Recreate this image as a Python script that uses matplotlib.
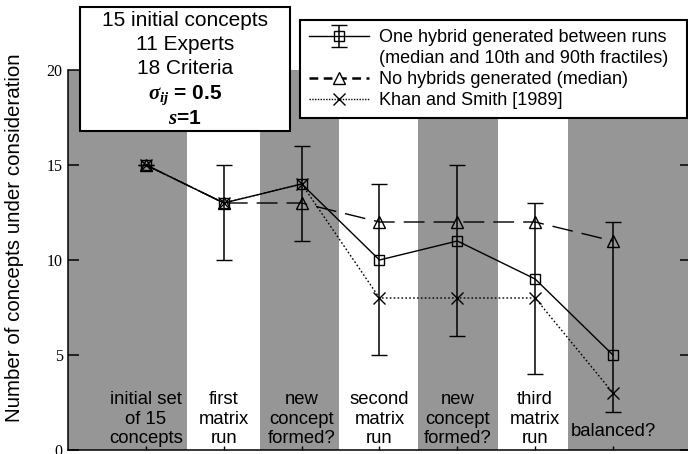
import matplotlib
matplotlib.use("Agg")
import matplotlib.pyplot as plt
from matplotlib.lines import Line2D
from matplotlib.patches import Rectangle
from matplotlib.container import ErrorbarContainer
from matplotlib.legend_handler import HandlerErrorbar

plt.rcParams['font.family'] = ['Liberation Sans', 'DejaVu Sans']
plt.rcParams['mathtext.fontset'] = 'custom'
plt.rcParams['mathtext.it'] = 'Liberation Serif:italic:bold'
plt.rcParams['mathtext.rm'] = 'Liberation Serif:bold'
plt.rcParams['mathtext.bf'] = 'Liberation Serif:bold'

# data
steps = [1, 2, 3, 4, 5, 6, 7]
step_labels = ["initial set\nof 15\nconcepts", "first\nmatrix\nrun", "new\nconcept\nformed?",
               "second\nmatrix\nrun", "new\nconcept\nformed?", "third\nmatrix\nrun", "balanced?"]
hybrid_median = [15, 13, 14, 10, 11, 9, 5]
hybrid_p10 = [15, 10, 11, 5, 6, 4, 2]
hybrid_p90 = [15, 15, 16, 14, 15, 13, 12]
no_hybrid = [15, 13, 13, 12, 12, 12, 11]
khan_smith = [15, 13, 14, 8, 8, 8, 3]

# shaded stage bands (x extents)
bands = [(0, 1.525), (2.464, 3.48), (4.495, 5.523), (6.423, 8)]

W, H = 688, 454
fig = plt.figure(figsize=(W / 100, H / 100), dpi=100)
ax = fig.add_axes([68.2 / W, 4 / H, 622.6 / W, 380 / H])

for x0, x1 in bands:
    ax.axvspan(x0, x1, color='#969696', lw=0, zorder=0)

lo = [m - p for m, p in zip(hybrid_median, hybrid_p10)]
hi = [p - m for m, p in zip(hybrid_median, hybrid_p90)]
eb = ax.errorbar(steps, hybrid_median, yerr=[lo, hi], color='black', lw=1.0,
                 elinewidth=1.1, capsize=6, capthick=1.1, marker='s', ms=7,
                 mfc='none', mec='black', mew=1.0, zorder=4)
ax.plot(steps, no_hybrid, color='black', lw=1.0, ls=(0, (15, 6.5)),
        marker='^', ms=8, mfc='none', mec='black', zorder=3)
ax.plot(steps, khan_smith, color='black', lw=1.0, ls=(0, (1.2, 1.6)),
        marker='x', ms=9, mew=1.0, zorder=3)

for x, lab in zip(steps, step_labels):
    y = 0.52 if lab.count("\n") == 0 else 0.15
    ax.text(x, y, lab, ha='center', va='bottom', fontsize=13.3, zorder=2)

ax.set_xlim(0, 8)
ax.set_ylim(0, 20)
ax.set_yticks([0, 5, 10, 15, 20])
ax.set_xticks(steps)
ax.set_xticklabels([])
ax.tick_params(axis='y', direction='in', length=8, width=1.1, right=True, pad=4)
ax.tick_params(axis='x', direction='in', length=3, width=1.0)
for t in ax.get_yticklabels():
    t.set_fontfamily('Liberation Serif')
    t.set_fontsize(11.5)
ax.spines['top'].set_visible(False)
for s in ['left', 'bottom', 'right']:
    ax.spines[s].set_linewidth(1.1)

fig.text(15 / W, 1 - 237.5 / H, "Number of concepts under consideration",
         rotation=90, ha='center', va='center', fontsize=14.8)

# parameter box
fig.add_artist(Rectangle((80 / W, 1 - 131 / H), 210 / W, 124 / H, transform=fig.transFigure,
                         facecolor='white', edgecolor='black', lw=1.5, zorder=5))
box_lines = ["15 initial concepts", "11 Experts", "18 Criteria"]
for i, s in enumerate(box_lines):
    fig.text(185 / W, 1 - (20 + 24 * i) / H, s, ha='center', va='center', fontsize=15, zorder=6)
fig.text(185 / W, 1 - 95 / H, r"$\sigma_{ij}$ = 0.5", ha='center', va='center',
         fontsize=15, fontweight='bold', zorder=6)
fig.text(185 / W, 1 - 118 / H, r"$s$=1", ha='center', va='center',
         fontsize=15, fontweight='bold', zorder=6)

# legend
h_blank = Line2D([], [], color='none')
h_tri = Line2D([], [], color='black', lw=1.8, ls=(0, (3.5, 2.2)), marker='^', ms=9,
               mfc='white', mec='black', mew=1.0)
h_x = Line2D([], [], color='black', lw=1.0, ls=(0, (1.0, 1.0)), marker='x', ms=9, mew=1.0)
leg = ax.legend([eb, h_blank, h_tri, h_x],
                ["One hybrid generated between runs", "(median and 10th and 90th fractiles)",
                 "No hybrids generated (median)", "Khan and Smith [1989]"],
                loc='upper left', bbox_to_anchor=(300 / W, 1 - 20 / H, 387 / W, 0.0),
                mode='expand', bbox_transform=fig.transFigure, borderaxespad=0, fontsize=13,
                handlelength=3.3, handletextpad=0.6, labelspacing=0.22, borderpad=0.5,
                numpoints=1, fancybox=False, framealpha=1, edgecolor='black',
                handler_map={ErrorbarContainer: HandlerErrorbar(yerr_size=0.6)})
leg.get_frame().set_linewidth(1.5)
leg.set_zorder(6)

fig.savefig("out.png", dpi=100)
